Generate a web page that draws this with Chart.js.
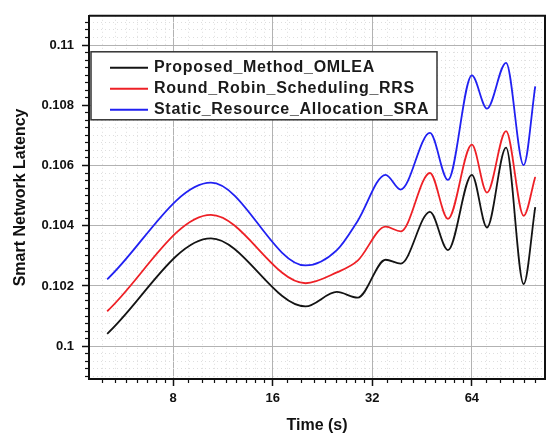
<!DOCTYPE html>
<html>
<head>
<meta charset="utf-8">
<script src="https://cdn.jsdelivr.net/npm/chart.js@4"></script>
<style>
  html, body { margin: 0; padding: 0; background: #fff; }
  #wrap { width: 549px; height: 435px; }
</style>
</head>
<body>
<div id="wrap"><canvas id="grafico" width="549" height="435"></canvas></div>
<script>
// datos
const tiempos = [5.05, 10.4, 20.1, 25, 28.9, 35.1, 39, 47.8, 54.2, 64, 71.1, 81.2, 91.8, 99.5];
const omlea = [0.10041, 0.10358, 0.10132, 0.10180, 0.10161, 0.10287, 0.10274, 0.10446, 0.10319, 0.10569, 0.10394, 0.10659, 0.10206, 0.10462];
const rrs   = [0.10116, 0.10436, 0.10209, 0.10245, 0.10284, 0.10397, 0.10381, 0.10575, 0.10423, 0.10669, 0.10510, 0.10714, 0.10433, 0.10562];
const sra   = [0.10222, 0.10543, 0.10268, 0.10319, 0.10416, 0.10569, 0.10520, 0.10708, 0.10552, 0.10899, 0.10789, 0.10941, 0.10601, 0.10863];
const etiquetas = ['Proposed_Method_OMLEA', 'Round_Robin_Scheduling_RRS', 'Static_Resource_Allocation_SRA'];
const colores = ['#141414', '#ee2026', '#2121f2'];
const ticks_x = [8, 16, 32, 64];
const ticks_y = [0.1, 0.102, 0.104, 0.106, 0.108, 0.11];

const xmin = 4.45, xmax = 106.5;
const ymin = 0.09891, ymax = 0.11097;

// ticks menores: 8 divisiones lineales por octava, y cada 0.00025 en y
let menores_x = [];
for (let a = 4; a < 128; a *= 2) {
  for (let k = 1; k < 9; k++) {
    let v = a + k * a / 9;
    if (v > xmin && v < xmax) menores_x.push(v);
  }
}
let menores_y = [];
for (let k = Math.ceil(ymin / 0.00025); k * 0.00025 < ymax; k++) {
  if (k % 8 != 0) menores_y.push(k * 0.00025);
}

const fuente = 'Arial, "Liberation Sans", sans-serif';

function serie(valores) {
  return tiempos.map((t, i) => ({x: t, y: valores[i]}));
}

const marco = {
  id: 'marco',
  afterDraw(chart) {
    const {ctx, chartArea: a} = chart;
    ctx.save();
    ctx.strokeStyle = '#111';
    ctx.lineWidth = 2;
    ctx.beginPath();
    ctx.moveTo(a.left, a.top);
    ctx.lineTo(a.right, a.top);
    ctx.lineTo(a.right, a.bottom);
    ctx.stroke();

    // leyenda con borde
    const bx = a.left + 2, by = a.top + 36, bw = 346, bh = 68;
    ctx.fillStyle = '#fff';
    ctx.fillRect(bx, by, bw, bh);
    ctx.strokeStyle = '#333';
    ctx.lineWidth = 1.5;
    ctx.strokeRect(bx, by, bw, bh);
    ctx.font = 'bold 16px ' + fuente;
    ctx.letterSpacing = '0.7px';
    ctx.textBaseline = 'middle';
    chart.data.datasets.forEach((ds, i) => {
      const yy = by + 16 + i * 21;
      ctx.strokeStyle = ds.borderColor;
      ctx.lineWidth = 2;
      ctx.beginPath();
      ctx.moveTo(bx + 19, yy);
      ctx.lineTo(bx + 57, yy);
      ctx.stroke();
      ctx.fillStyle = '#1a1a1a';
      ctx.fillText(ds.label, bx + 63, yy);
    });
    ctx.restore();
  }
};

const data = {
  datasets: [omlea, rrs, sra].map((v, i) => ({
    label: etiquetas[i],
    data: serie(v),
    borderColor: colores[i],
    backgroundColor: colores[i],
    borderWidth: 1.8,
    pointRadius: 0,
    cubicInterpolationMode: 'monotone',
    xAxisID: 'x',
    yAxisID: 'y'
  }))
};

const config = {
  type: 'line',
  data: data,
  options: {
    responsive: false,
    animation: false,
    layout: { padding: { top: 7, right: 4, left: 0, bottom: 0 } },
    plugins: { legend: { display: false }, tooltip: { enabled: false } },
    scales: {
      x: {
        type: 'logarithmic', min: xmin, max: xmax, position: 'bottom', weight: 1,
        afterBuildTicks: s => { s.ticks = ticks_x.map(v => ({value: v})); },
        afterFit: s => { s.height = 56; },
        ticks: { callback: v => String(v), color: '#111', padding: 5, maxRotation: 0, autoSkip: false,
                 font: { family: fuente, size: 13, weight: 'bold' } },
        grid: { color: '#b2b2b2', lineWidth: 1, tickLength: 7, tickColor: '#111', tickWidth: 1.5 },
        border: { color: '#111', width: 2 },
        title: { display: true, text: 'Time (s)', color: '#111', padding: { top: 0, bottom: 0 },
                 font: { family: fuente, size: 16, weight: 'bold' } }
      },
      xm: {
        type: 'logarithmic', min: xmin, max: xmax, position: 'bottom', weight: 0,
        afterBuildTicks: s => { s.ticks = menores_x.map(v => ({value: v})); },
        afterFit: s => { s.height = 0; },
        ticks: { display: false },
        grid: { color: '#dedede', lineWidth: 1, tickLength: 4, tickColor: '#111', tickWidth: 1.2 },
        border: { display: false, dash: [1, 3] }
      },
      y: {
        type: 'linear', min: ymin, max: ymax, position: 'left', weight: 1,
        afterBuildTicks: s => { s.ticks = ticks_y.map(v => ({value: v})); },
        afterFit: s => { s.width = 89; },
        ticks: { callback: v => String(+v.toFixed(3)), color: '#111', padding: 8, autoSkip: false,
                 font: { family: fuente, size: 13, weight: 'bold' } },
        grid: { color: '#b2b2b2', lineWidth: 1, tickLength: 7, tickColor: '#111', tickWidth: 1.5 },
        border: { color: '#111', width: 2 },
        title: { display: true, text: 'Smart Network Latency', color: '#111', padding: { top: 11, bottom: 0 },
                 font: { family: fuente, size: 16, weight: 'bold' } }
      },
      ym: {
        type: 'linear', min: ymin, max: ymax, position: 'left', weight: 0,
        afterBuildTicks: s => { s.ticks = menores_y.map(v => ({value: v})); },
        afterFit: s => { s.width = 0; },
        ticks: { display: false },
        grid: { color: '#dedede', lineWidth: 1, tickLength: 4, tickColor: '#111', tickWidth: 1.2 },
        border: { display: false, dash: [1, 3] }
      }
    }
  },
  plugins: [marco]
};

let myChart = new Chart(document.querySelector('#grafico').getContext('2d'), config);
</script>
</body>
</html>
